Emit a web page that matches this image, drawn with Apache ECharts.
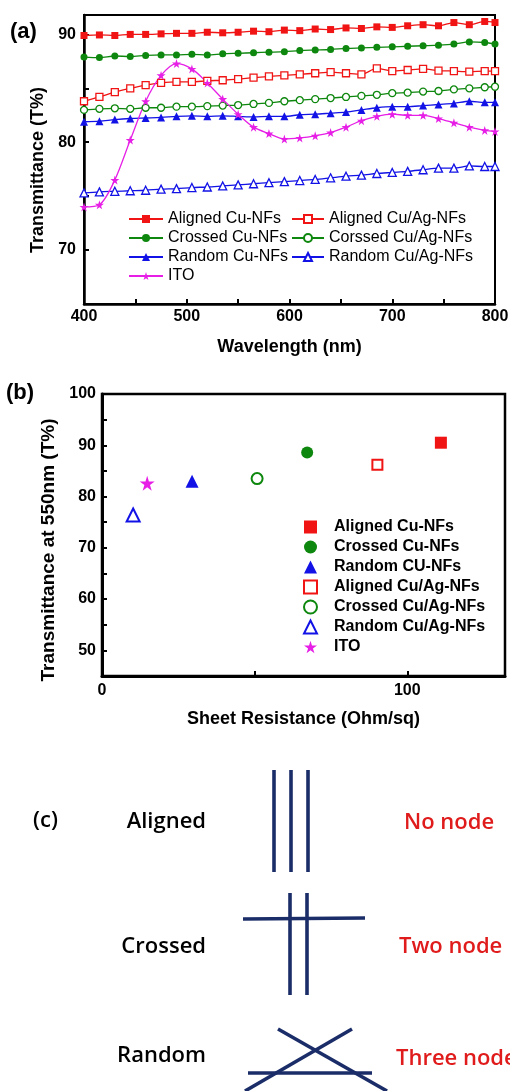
<!DOCTYPE html>
<html><head><meta charset="utf-8">
<script src="https://cdn.jsdelivr.net/npm/echarts@6/dist/echarts.min.js"></script>
<style>html,body{margin:0;padding:0;background:#fff}#c{width:510px;height:1091px}</style>
</head><body><div id="c"></div>
<script>
// ---------- Panel (a): transmittance spectra ----------
const wavelengths = [400,415,430,445,460,475,490,505,520,535,550,565,580,595,610,625,640,655,670,685,700,715,730,745,760,775,790,800];
const alignedCu   = [89.9,89.95,89.9,90.0,90.0,90.05,90.1,90.1,90.2,90.15,90.2,90.3,90.25,90.4,90.35,90.5,90.45,90.6,90.55,90.7,90.65,90.8,90.9,90.8,91.1,90.9,91.2,91.1];
const crossedCu   = [87.9,87.85,88.0,87.95,88.05,88.1,88.1,88.15,88.1,88.2,88.25,88.3,88.35,88.4,88.5,88.55,88.6,88.7,88.75,88.8,88.85,88.9,88.95,89.0,89.1,89.3,89.25,89.1];
const alignedCuAg = [83.8,84.2,84.65,85.0,85.3,85.5,85.6,85.6,85.7,85.75,85.85,86.0,86.1,86.2,86.3,86.4,86.5,86.4,86.3,86.85,86.6,86.7,86.8,86.65,86.6,86.55,86.6,86.6];
const crossedCuAg = [83.0,83.1,83.15,83.1,83.2,83.2,83.3,83.3,83.35,83.4,83.45,83.55,83.65,83.8,83.9,84.0,84.1,84.2,84.3,84.4,84.55,84.6,84.7,84.75,84.9,85.0,85.1,85.15];
const randomCu    = [81.9,81.95,82.1,82.2,82.25,82.3,82.4,82.45,82.4,82.45,82.4,82.35,82.4,82.4,82.55,82.6,82.7,82.8,83.0,83.2,83.3,83.3,83.4,83.5,83.6,83.8,83.7,83.7];
const randomCuAg  = [75.3,75.4,75.45,75.5,75.55,75.65,75.7,75.8,75.85,75.95,76.05,76.15,76.25,76.35,76.45,76.55,76.7,76.85,76.95,77.1,77.2,77.3,77.45,77.6,77.6,77.8,77.75,77.75];
const ito         = [74.0,74.2,76.5,80.2,83.8,86.2,87.3,86.8,85.5,84.0,82.6,81.4,80.8,80.3,80.4,80.6,80.9,81.4,82.0,82.4,82.6,82.5,82.5,82.2,81.8,81.4,81.1,81.0];
const xTicksA = [400,500,600,700,800];
const yTicksA = [70,80,90];

// ---------- Panel (b): transmittance at 550 nm vs sheet resistance ----------
const panelBNames      = ['Aligned Cu-NFs','Crossed Cu-NFs','Random CU-NFs','Aligned Cu/Ag-NFs','Crossed Cu/Ag-NFs','Random Cu/Ag-NFs','ITO'];
const sheetResistance  = [111, 67.2, 29.5, 90.2, 50.8, 10.2, 14.8];
const transmittance550 = [90.5, 88.6, 83.0, 86.2, 83.5, 76.4, 82.6];
const xTicksB = [0,100];
const yTicksB = [50,60,70,80,90,100];

// ---------- Panel (c): schematic wire segments (diagram units) ----------
const schematicSegments = [
  [[274,30],[274,132]],[[291,30],[291,132]],[[308,30],[308,132]],
  [[243,179],[365,178]],[[290,153],[290,255]],[[307,153],[307,255]],
  [[278,289],[387,351]],[[352,289],[245,351]],[[248,333],[372,333]]
];
const schematicLabels = ['Aligned','Crossed','Random'];
const schematicNotes  = ['No node','Two node','Three node'];

const RED='#f01414', GREEN='#0d870d', BLUE='#1212e6', MAG='#e61ee6', NAVY='#1b2d68';
const STAR='path://M50,0 L61,35 L98,35 L68,57 L79,91 L50,70 L21,91 L32,57 L2,35 L39,35 Z';
const FONT='"Liberation Sans", Arial, sans-serif';
const CFONT='"Open Sans", sans-serif';

const specA = [
  {name:'Aligned Cu-NFs', d:alignedCu, c:RED, s:'rect', open:false, sz:7},
  {name:'Aligned Cu/Ag-NFs', d:alignedCuAg, c:RED, s:'rect', open:true, sz:7},
  {name:'Crossed Cu-NFs', d:crossedCu, c:GREEN, s:'circle', open:false, sz:7},
  {name:'Corssed Cu/Ag-NFs', d:crossedCuAg, c:GREEN, s:'circle', open:true, sz:7},
  {name:'Random Cu-NFs', d:randomCu, c:BLUE, s:'triangle', open:false, sz:8},
  {name:'Random Cu/Ag-NFs', d:randomCuAg, c:BLUE, s:'triangle', open:true, sz:8},
  {name:'ITO', d:ito, c:MAG, s:STAR, open:false, sz:9}
];
const specB = [
  {s:'rect', c:RED, open:false, sz:12},
  {s:'circle', c:GREEN, open:false, sz:12},
  {s:'triangle', c:BLUE, open:false, sz:13},
  {s:'rect', c:RED, open:true, sz:10},
  {s:'circle', c:GREEN, open:true, sz:11},
  {s:'triangle', c:BLUE, open:true, sz:13},
  {s:STAR, c:MAG, open:false, sz:15}
];

const series = [];
specA.forEach(p => {
  series.push({
    type:'line', name:p.name, xAxisIndex:0, yAxisIndex:0,
    data: wavelengths.map((w,i)=>[w,p.d[i]]),
    smooth:0.3, symbol:p.s, symbolSize:p.sz, showAllSymbol:true,
    lineStyle:{color:p.c, width:1.3},
    itemStyle:{color:p.open?'#fff':p.c, borderColor:p.c, borderWidth:p.open?1.3:0},
    emphasis:{disabled:true}, animation:false, z:3
  });
});
panelBNames.forEach((n,i) => {
  const p = specB[i];
  series.push({
    type:'scatter', name:'b:'+n, xAxisIndex:1, yAxisIndex:1,
    data:[[sheetResistance[i], transmittance550[i]]],
    symbol:p.s, symbolSize:p.sz,
    itemStyle:{color:p.open?'#fff':p.c, borderColor:p.c, borderWidth:p.open?2:0, opacity:1},
    emphasis:{disabled:true}, animation:false
  });
});
schematicSegments.forEach(seg => {
  series.push({
    type:'line', xAxisIndex:2, yAxisIndex:2, data:seg, symbol:'none',
    lineStyle:{color:NAVY, width:3.6}, silent:true, animation:false, clip:false
  });
});

const tickLabel = {color:'#000', fontFamily:FONT, fontWeight:'bold', fontSize:16};
const axisTitle = {color:'#000', fontFamily:FONT, fontWeight:'bold', fontSize:18};

const option = {
  backgroundColor:'#fff',
  animation:false,
  grid:[
    {left:84, top:15, width:411, height:289, show:true, borderColor:'#000', borderWidth:2, outerBoundsMode:'none'},
    {left:102, top:394, width:403, height:282, show:true, borderColor:'#000', borderWidth:2.5, outerBoundsMode:'none'},
    {left:0, top:740, width:510, height:351, outerBoundsMode:'none'}
  ],
  xAxis:[
    {gridIndex:0, type:'value', min:400, max:800, interval:50,
     axisLine:{lineStyle:{color:'#000', width:2.5}}, axisTick:{inside:true, length:5, lineStyle:{color:'#000', width:2}},
     axisLabel:{...tickLabel, margin:5, formatter:v=>xTicksA.includes(v)?String(v):''},
     splitLine:{show:false},
     name:'Wavelength (nm)', nameLocation:'middle', nameGap:34, nameTextStyle:axisTitle},
    {gridIndex:1, type:'value', min:0, max:132, interval:50,
     axisLine:{onZero:false, lineStyle:{color:'#000', width:3}}, axisTick:{inside:true, length:5, lineStyle:{color:'#000', width:2}},
     axisLabel:{...tickLabel, margin:7, formatter:v=>xTicksB.includes(v)?String(v):''},
     splitLine:{show:false},
     name:'Sheet Resistance (Ohm/sq)', nameLocation:'middle', nameGap:34, nameTextStyle:axisTitle},
    {gridIndex:2, type:'value', min:0, max:510, show:false}
  ],
  yAxis:[
    {gridIndex:0, type:'value', min:65, max:91.8, interval:5,
     axisLine:{show:true, lineStyle:{color:'#000', width:2.5}}, axisTick:{show:true, inside:true, length:5, lineStyle:{color:'#000', width:2}},
     axisLabel:{...tickLabel, margin:8, formatter:v=>yTicksA.includes(v)?String(v):''},
     splitLine:{show:false},
     name:'Transmittance (T%)', nameLocation:'middle', nameGap:36, nameRotate:90,
     nameTextStyle:{...axisTitle, padding:[0,21,0,0]}},
    {gridIndex:1, type:'value', min:45, max:100, interval:5,
     axisLine:{show:true, onZero:false, lineStyle:{color:'#000', width:3}}, axisTick:{show:true, inside:true, length:5, lineStyle:{color:'#000', width:2}},
     axisLabel:{...tickLabel, margin:6, formatter:v=>yTicksB.includes(v)?String(v):''},
     splitLine:{show:false},
     name:'Transmittance at 550nm (T%)', nameLocation:'middle', nameGap:43, nameRotate:90,
     nameTextStyle:{...axisTitle, fontSize:19, padding:[0,30,0,0]}},
    {gridIndex:2, type:'value', min:0, max:351, inverse:true, show:false}
  ],
  legend:[
    {data:['Aligned Cu-NFs','Crossed Cu-NFs','Random Cu-NFs','ITO'], orient:'vertical', left:128, top:211,
     itemWidth:34, itemHeight:10, itemGap:3, selectedMode:false, padding:0,
     textStyle:{color:'#000', fontFamily:FONT, fontSize:16, lineHeight:16}},
    {data:['Aligned Cu/Ag-NFs','Corssed Cu/Ag-NFs','Random Cu/Ag-NFs'], orient:'vertical', left:291, top:211,
     itemWidth:32, itemHeight:10, itemGap:3, selectedMode:false, padding:0,
     textStyle:{color:'#000', fontFamily:FONT, fontSize:16, lineHeight:16}},
    {data:panelBNames.map(n=>'b:'+n), orient:'vertical', left:303, top:519,
     itemWidth:13, itemHeight:13, itemGap:4, selectedMode:false, padding:0,
     formatter:n=>n.replace(/^b:/,''),
     textStyle:{color:'#000', fontFamily:FONT, fontSize:16, fontWeight:'bold', lineHeight:16, padding:[0,0,0,12]}}
  ],
  graphic:[
    {type:'text', left:10, top:21, style:{text:'(a)', fill:'#000', font:'bold 22px '+FONT}},
    {type:'text', left:6, top:382, style:{text:'(b)', fill:'#000', font:'bold 22px '+FONT}},
    {type:'text', left:33, top:810, style:{text:'(c)', fill:'#000', font:'600 22px '+CFONT}},
    ...schematicLabels.map((t,i)=>({type:'text', right:304, top:[811,936,1045][i], style:{text:t, fill:'#000', font:'600 22px '+CFONT}})),
    ...schematicNotes.map((t,i)=>({type:'text', left:[404,399,396][i], top:[812,936,1048][i], style:{text:t, fill:'#e01b1b', font:'600 22px '+CFONT}}))
  ],
  series
};
const chart = echarts.init(document.getElementById('c'), null, {renderer:'canvas'});
chart.setOption(option);
</script></body></html>
